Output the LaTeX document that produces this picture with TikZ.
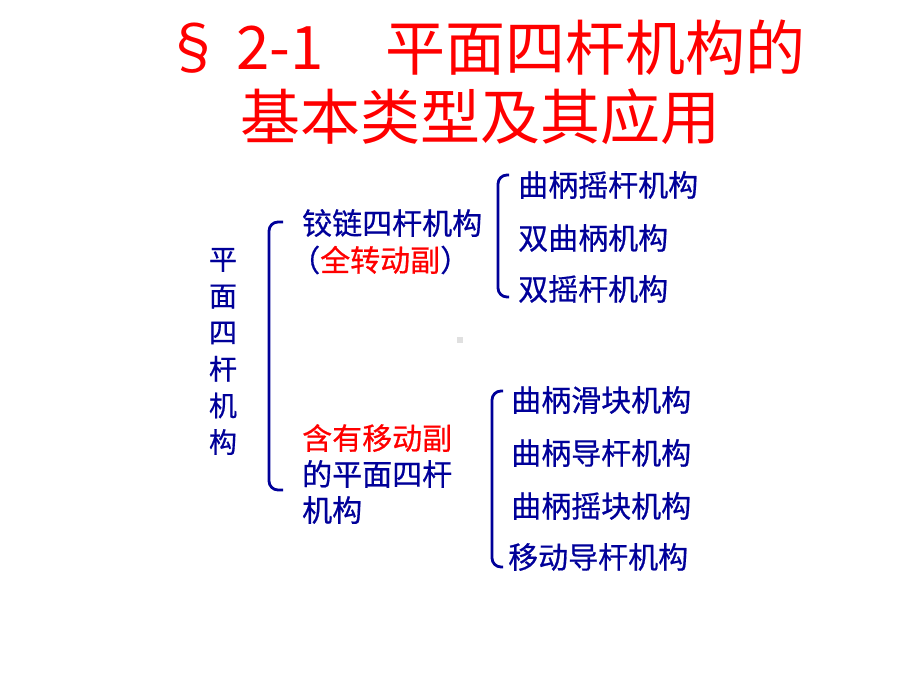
\documentclass[tikz,border=0pt]{standalone}
\usepackage{fontspec}
\setmainfont{Noto Sans CJK SC}
\newfontfamily\bodyfont[FakeBold=0.6]{Noto Sans CJK SC}
\definecolor{navy}{RGB}{0,0,153}
\tikzset{bracket/.style={draw=navy,line width=2.8pt,rounded corners=9pt}}

\begin{document}
\begin{tikzpicture}[x=1pt,y=-1pt]
	\useasboundingbox (0,0) rectangle (920,690);
	
	\begin{scope}[every node/.style={anchor=west,inner sep=0pt,text=red,font=\fontsize{60}{69}\selectfont}]
	\node (title 1) at (163,48) {§ 2-1};
	\node (title 2) at (385,48) {平面四杆机构的};
	\node (title 3) at (240,117) {基本类型及其应用};
	\end{scope}
	
	\begin{scope}[every node/.style={anchor=west,inner sep=0pt,text=navy,align=left,font=\bodyfont\fontsize{30}{36}\selectfont}]
	\node[anchor=center,align=center,font=\bodyfont\fontsize{28}{36.6}\selectfont] (root) at (223,351.5) {平\\面\\四\\杆\\机\\构};
	\node (hinge) at (302,223) {铰链四杆机构};
	\node (hinge note) at (290,260) {（\textcolor{red}{全转动副}）};
	\node (slide) at (302,474) {\textcolor{red}{含有移动副}\\的平面四杆\\机构};
	\node (hinge 1) at (518,185) {曲柄摇杆机构};
	\node (hinge 2) at (518,238) {双曲柄机构};
	\node (hinge 3) at (518,289) {双摇杆机构};
	\node (slide 1) at (511,400) {曲柄滑块机构};
	\node (slide 2) at (511,453) {曲柄导杆机构};
	\node (slide 3) at (511,506) {曲柄摇块机构};
	\node (slide 4) at (508,557) {移动导杆机构};
	\end{scope}
	
	\begin{scope}
	\draw[bracket] (283,222) -- (269,222) -- (269,490) -- (283,490);
	\draw[bracket] (509,175) -- (498,175) -- (498,297) -- (509,297);
	\draw[bracket] (503,391) -- (492,391) -- (492,567) -- (503,567);
	\fill[black!12] (457,337) rectangle (463,343);
	\end{scope}
	
\end{tikzpicture}
\end{document}
